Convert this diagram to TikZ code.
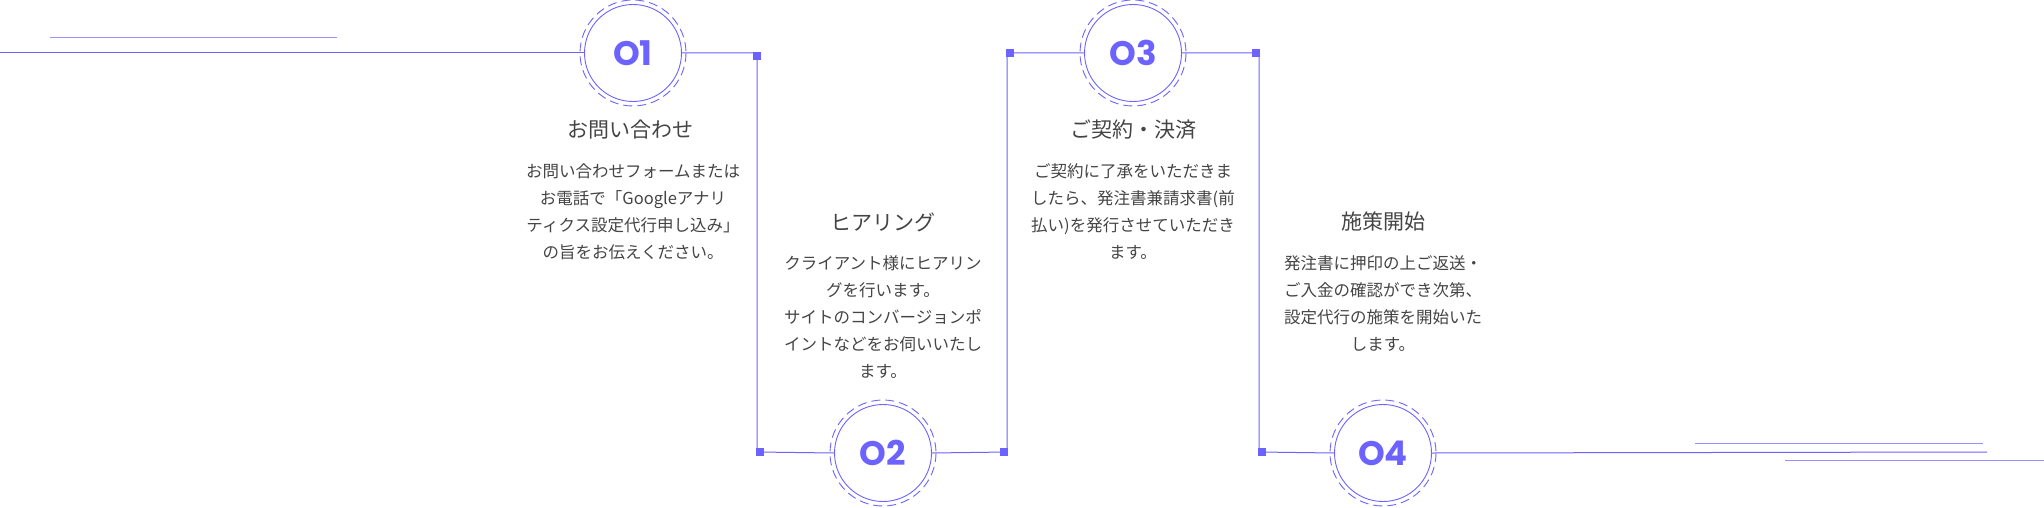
\documentclass[tikz,border=0pt]{standalone}
\usepackage{fontspec}
\newfontfamily\jp{Noto Sans CJK JP}
\newfontfamily\num{Poppins}
\definecolor{accent}{HTML}{6C63FF}
\definecolor{ink}{HTML}{444444}
\tikzset{
	stepnum/.style={circle, draw=accent, line width=0.9pt, minimum size=97pt, inner sep=0pt, text=accent, font=\num\bfseries\fontsize{34}{34}\selectfont},
	ring/.style={draw=accent, line width=0.9pt, dash pattern=on 9pt off 5pt},
	link/.style={draw=accent, line width=1pt},
	title/.style={text=ink, font=\jp\fontsize{21}{21}\selectfont},
	body/.style={text=ink, align=center, font=\jp\fontsize{16.5}{27}\selectfont}
}
\newcommand\Corner[2]{
	\fill[accent] (#1-4,#2-4) rectangle (#1+4,#2+4);
	}

\begin{document}
\begin{tikzpicture}[x=1pt,y=-1pt]
		\useasboundingbox (0,0) rectangle (2044,508);
		% step circles
		\node[stepnum] (s1) at (633,53) {O1};
		\node[stepnum] (s2) at (883,453) {O2};
		\node[stepnum] (s3) at (1133,53) {O3};
		\node[stepnum] (s4) at (1383,453) {O4};
		\foreach \c in {s1,s2,s3,s4}
			\draw[ring] (\c.center) circle (53);
		
		% corners
		\coordinate (c1) at (757,53);
		\coordinate (c2) at (757,452);
		\coordinate (c3) at (1007,452);
		\coordinate (c4) at (1007,53);
		\coordinate (c5) at (1259,53);
		\coordinate (c6) at (1259,452);
		\coordinate (l0) at (0,53);
		\coordinate (r0) at (1987,452);
		
		\draw[link] (l0) -- (s1.west);
		\draw[link] (s1.east) -- (c1) -- (c2) -- (s2.west);
		\draw[link] (s2.east) -- (c3) -- (c4) -- (s3.west);
		\draw[link] (s3.east) -- (c5) -- (c6) -- (s4.west);
		\draw[link] (s4.east) -- (r0);
		\Corner{757}{56}
		\Corner{760}{452}
		\Corner{1004}{452}
		\Corner{1010}{53}
		\Corner{1256}{53}
		\Corner{1262}{452}
		
		% deco lines
		\draw[link, draw=accent!70] (50,38) -- (337,38);
		\draw[link, draw=accent!70] (1695,443) -- (1983,443);
		\draw[link, draw=accent!70] (1785,460) -- (2044,460);
		
		% texts
		\node[title] (t1) at (630,130) {お問い合わせ};
		\node[body, anchor=north] (b1) at (633,160) {お問い合わせフォームまたは\\お電話で「Googleアナリ\\ティクス設定代行申し込み」\\の旨をお伝えください。};
		\node[title] (t2) at (883,222) {ヒアリング};
		\node[body, anchor=north] (b2) at (883,252) {クライアント様にヒアリン\\グを行います。\\サイトのコンバージョンポ\\イントなどをお伺いいたし\\ます。};
		\node[title] (t3) at (1133,130) {ご契約・決済};
		\node[body, anchor=north] (b3) at (1133,160) {ご契約に了承をいただきま\\したら、発注書兼請求書(前\\払い)を発行させていただき\\ます。};
		\node[title] (t4) at (1383,222) {施策開始};
		\node[body, anchor=north] (b4) at (1383,252) {発注書に押印の上ご返送・\\ご入金の確認ができ次第、\\設定代行の施策を開始いた\\します。};
\end{tikzpicture}
\end{document}
